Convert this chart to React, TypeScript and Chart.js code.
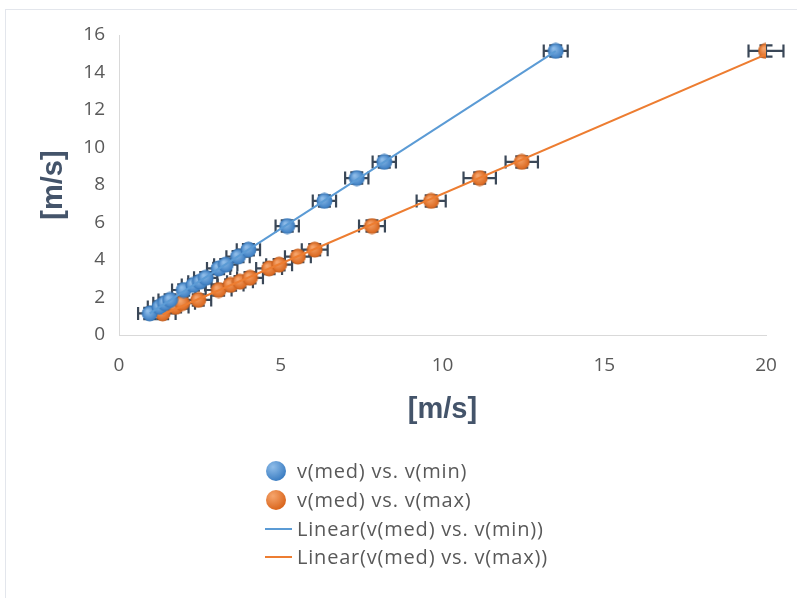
import React, { useEffect, useRef } from "react";
import { Chart, registerables } from "chart.js";

Chart.register(...registerables);

// shared v(med) values (y)
const vMed = [1.15, 1.5, 1.7, 1.87, 2.4, 2.67, 2.84, 3.05, 3.55, 3.75, 4.18, 4.55, 5.81, 7.15, 8.37, 9.23, 15.15];
// v(min) values (x, blue series)
const vMin = [0.95, 1.25, 1.42, 1.58, 2.0, 2.3, 2.5, 2.68, 3.08, 3.3, 3.68, 4.0, 5.2, 6.35, 7.35, 8.2, 13.5];
// v(max) values (x, orange series)
const vMax = [1.35, 1.75, 1.95, 2.45, 3.08, 3.45, 3.74, 4.05, 4.64, 4.95, 5.53, 6.05, 7.82, 9.65, 11.15, 12.45, 20.0];
// error amounts
const errMinX = [0.36, 0.36, 0.36, 0.36, 0.36, 0.36, 0.36, 0.36, 0.36, 0.36, 0.36, 0.36, 0.36, 0.36, 0.36, 0.36, 0.37];
const errMaxX = [0.4, 0.4, 0.4, 0.4, 0.4, 0.4, 0.4, 0.4, 0.4, 0.4, 0.4, 0.4, 0.4, 0.45, 0.5, 0.5, 0.54];
const errY = [0.3, 0.3, 0.3, 0.3, 0.3, 0.3, 0.3, 0.3, 0.3, 0.3, 0.3, 0.3, 0.3, 0.3, 0.3, 0.3, 0.3];

const xTicks = [0, 5, 10, 15, 20];
const yTicks = [0, 2, 4, 6, 8, 10, 12, 14, 16];

const seriesNames = [
  "v(med) vs. v(min)",
  "v(med) vs. v(max)",
  "Linear(v(med) vs. v(min))",
  "Linear(v(med) vs. v(max))",
];

const BLUE = "#5b9bd5";
const ORANGE = "#ed7d31";

function regression(xs: number[], ys: number[]) {
  const n = xs.length;
  let sx = 0, sy = 0, sxx = 0, sxy = 0;
  for (let i = 0; i < n; i++) {
    sx += xs[i]; sy += ys[i]; sxx += xs[i] * xs[i]; sxy += xs[i] * ys[i];
  }
  const m = (n * sxy - sx * sy) / (n * sxx - sx * sx);
  const b = (sy - m * sx) / n;
  const x0 = Math.min(...xs), x1 = Math.max(...xs);
  return [{ x: x0, y: m * x0 + b }, { x: x1, y: m * x1 + b }];
}

function makeMarker(light: string, dark: string, edge: string, r: number) {
  const c = document.createElement("canvas");
  const s = r * 2 + 2;
  c.width = s; c.height = s;
  const ctx = c.getContext("2d")!;
  const g = ctx.createRadialGradient(s / 2 - r * 0.3, s / 2 - r * 0.35, r * 0.1, s / 2, s / 2, r);
  g.addColorStop(0, light);
  g.addColorStop(1, dark);
  ctx.beginPath();
  ctx.arc(s / 2, s / 2, r, 0, Math.PI * 2);
  ctx.fillStyle = g;
  ctx.fill();
  ctx.lineWidth = 1;
  ctx.strokeStyle = edge;
  ctx.stroke();
  return c;
}

const errorBarPlugin = {
  id: "errorBars",
  beforeDatasetsDraw(chart: any) {
    const { ctx, scales } = chart;
    const xs = scales.x, ys = scales.y;
    const sets = [
      { xv: vMin, ex: errMinX },
      { xv: vMax, ex: errMaxX },
    ];
    ctx.save();
    ctx.strokeStyle = "#3a4757";
    ctx.lineWidth = 2.2;
    const cap = 6.5;
    sets.forEach(({ xv, ex }) => {
      xv.forEach((x, i) => {
        const y = vMed[i];
        const py = ys.getPixelForValue(y);
        const pxl = xs.getPixelForValue(x - ex[i]);
        const pxr = xs.getPixelForValue(x + ex[i]);
        const px = xs.getPixelForValue(x);
        const pyt = ys.getPixelForValue(y + errY[i]);
        const pyb = ys.getPixelForValue(y - errY[i]);
        ctx.beginPath();
        ctx.moveTo(pxl, py); ctx.lineTo(pxr, py);
        ctx.moveTo(pxl, py - cap); ctx.lineTo(pxl, py + cap);
        ctx.moveTo(pxr, py - cap); ctx.lineTo(pxr, py + cap);
        ctx.moveTo(px, pyt); ctx.lineTo(px, pyb);
        ctx.moveTo(px - cap, pyt); ctx.lineTo(px + cap, pyt);
        ctx.moveTo(px - cap, pyb); ctx.lineTo(px + cap, pyb);
        ctx.stroke();
      });
    });
    ctx.restore();
  },
};

export default function App() {
  const ref = useRef<HTMLCanvasElement>(null);
  useEffect(() => {
    if (!ref.current) return;
    const blueMarker = makeMarker("#8fbde9", "#3b7dc2", "#3a78b8", 7.5);
    const orangeMarker = makeMarker("#f6a56c", "#d9651c", "#c8611f", 7.5);
    const chart = new Chart(ref.current, {
      type: "scatter",
      data: {
        datasets: [
          {
            label: seriesNames[0],
            data: vMin.map((x, i) => ({ x, y: vMed[i] })),
            pointStyle: blueMarker as any,
            pointRadius: 7,
            backgroundColor: BLUE,
            order: 1,
          },
          {
            label: seriesNames[1],
            data: vMax.map((x, i) => ({ x, y: vMed[i] })),
            pointStyle: orangeMarker as any,
            pointRadius: 7,
            backgroundColor: ORANGE,
            order: 1,
          },
          {
            label: seriesNames[2],
            data: regression(vMin, vMed),
            showLine: true,
            borderColor: BLUE,
            borderWidth: 2,
            pointRadius: 0,
            order: 0,
          },
          {
            label: seriesNames[3],
            data: regression(vMax, vMed),
            showLine: true,
            borderColor: ORANGE,
            borderWidth: 2,
            pointRadius: 0,
            order: 0,
          },
        ],
      },
      options: {
        animation: false,
        responsive: false,
        events: [],
        layout: { padding: { left: 0, top: 35, right: 31, bottom: 171 } },
        plugins: { legend: { display: false }, tooltip: { enabled: false } },
        scales: {
          x: {
            type: "linear",
            min: 0,
            max: 20,
            afterBuildTicks: (s: any) => { s.ticks = xTicks.map((v) => ({ value: v })); },
            afterFit: (s: any) => { s.height = 92; },
            grid: { display: false, drawTicks: false },
            border: { display: true, color: "#d9d9d9", width: 1 },
            ticks: { color: "#595959", font: { family: "Open Sans", size: 19 }, padding: 19 },
            title: {
              display: true,
              text: "[m/s]",
              color: "#44546a",
              font: { family: "Liberation Sans", size: 29, weight: "bold" },
              padding: { top: 0, bottom: 0 },
            },
          },
          y: {
            type: "linear",
            min: 0,
            max: 16,
            afterBuildTicks: (s: any) => { s.ticks = yTicks.map((v) => ({ value: v })); },
            afterFit: (s: any) => { s.width = 119; },
            grid: { display: false, drawTicks: false },
            border: { display: true, color: "#d9d9d9", width: 1 },
            ticks: { color: "#595959", font: { family: "Open Sans", size: 19 }, padding: 14 },
            title: {
              display: true,
              text: "[m/s]",
              color: "#44546a",
              font: { family: "Liberation Sans", size: 29, weight: "bold" },
              padding: { top: 37, bottom: 0 },
            },
          },
        },
      },
      plugins: [errorBarPlugin],
    } as any);
    return () => chart.destroy();
  }, []);

  const legendText: React.CSSProperties = {
    position: "absolute",
    left: 297,
    fontFamily: "Open Sans",
    fontSize: 20,
    letterSpacing: "0.8px",
    color: "#595959",
    lineHeight: "24px",
    whiteSpace: "nowrap",
  };
  const rows = [471, 500, 529, 557];
  const dot = (bg: string, cy: number) => (
    <div
      style={{
        position: "absolute",
        left: 266,
        top: cy - 10,
        width: 20,
        height: 20,
        borderRadius: "50%",
        background: bg,
      }}
    />
  );
  const line = (color: string, cy: number) => (
    <div style={{ position: "absolute", left: 265, top: cy - 1, width: 27, height: 2, background: color }} />
  );

  return (
    <div style={{ position: "fixed", left: 0, top: 0, width: 797, height: 598, background: "#fff", overflow: "hidden" }}>
      <div style={{ position: "absolute", left: 5, top: 9, width: 800, height: 600, borderLeft: "1px solid #e3e6ec", borderTop: "1px solid #e3e6ec" }} />
      <canvas ref={ref} width={797} height={598} style={{ position: "absolute", left: 0, top: 0 }} />
      {dot("radial-gradient(circle at 35% 30%, #8fbde9, #3b7dc2 75%)", rows[0])}
      {dot("radial-gradient(circle at 35% 30%, #f6a56c, #d9651c 75%)", rows[1])}
      {line(BLUE, rows[2])}
      {line(ORANGE, rows[3])}
      {seriesNames.map((n, i) => (
        <div key={n} style={{ ...legendText, top: rows[i] - 12 }}>{n}</div>
      ))}
    </div>
  );
}
